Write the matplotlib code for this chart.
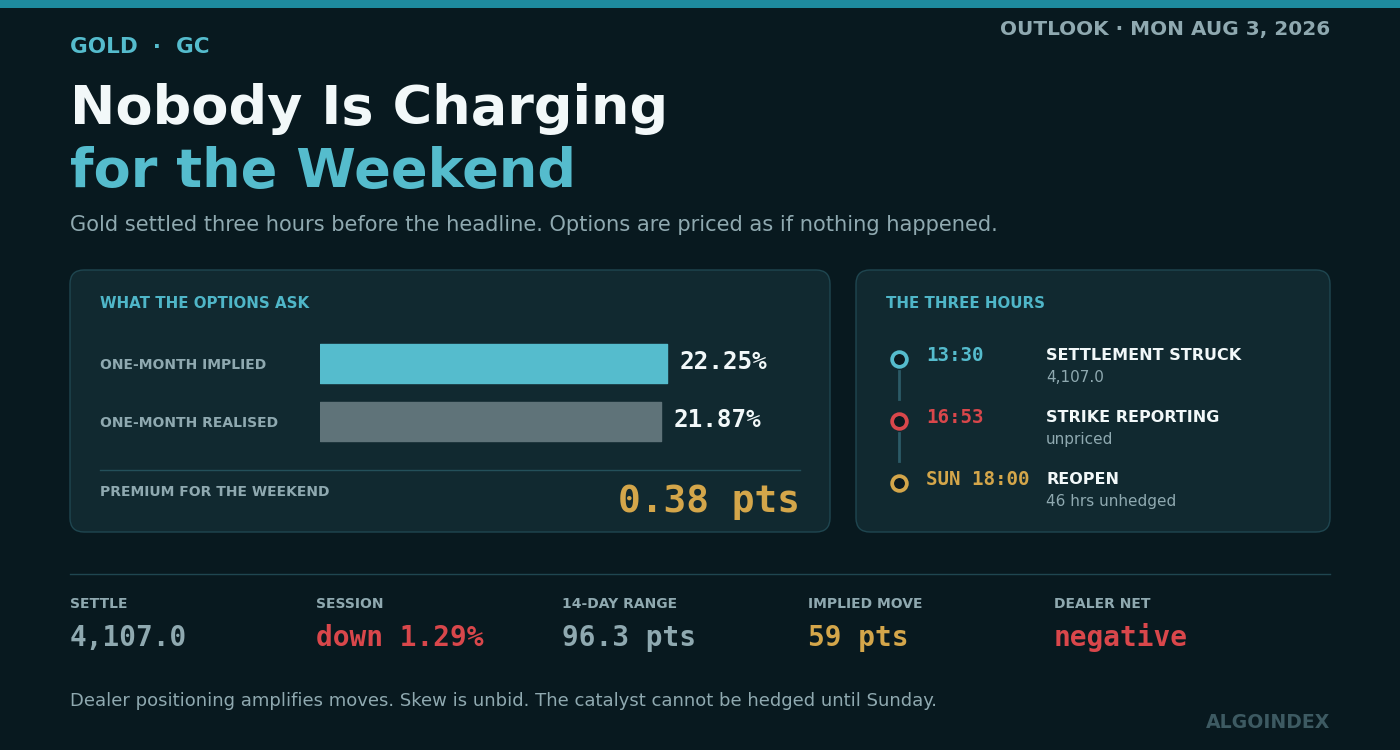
import matplotlib
matplotlib.use("Agg")
import matplotlib.pyplot as plt
from matplotlib.patches import FancyBboxPatch, Rectangle

plt.rcParams["font.family"] = ["DejaVu Sans"]

bar_labels = ["ONE-MONTH IMPLIED", "ONE-MONTH REALISED"]
bar_values = [22.25, 21.87]
premium_pts = 0.38

tl_times = ["13:30", "16:53", "SUN 18:00"]
tl_events = ["SETTLEMENT STRUCK", "STRIKE REPORTING", "REOPEN"]
tl_notes = ["4,107.0", "unpriced", "46 hrs unhedged"]

stat_labels = ["SETTLE", "SESSION", "14-DAY RANGE", "IMPLIED MOVE", "DEALER NET"]
stat_values = ["4,107.0", "down 1.29%", "96.3 pts", "59 pts", "negative"]

# colours
BG = "#08191f"
PANEL = "#112930"
EDGE = "#1f4650"
TEAL = "#55bccd"
GREY = "#8fa9b0"
WHITE = "#f2f8f9"
RED = "#d9474b"
GOLD = "#d4a64a"
BAR_COLORS = [TEAL, "#5f7379"]
TL_COLORS = [TEAL, RED, GOLD]
STAT_COLORS = [GREY, RED, GREY, GOLD, RED]
MONO = "DejaVu Sans Mono"

fig = plt.figure(figsize=(14, 7.5), dpi=100, facecolor=BG)
ax = fig.add_axes([0, 0, 1, 1])
ax.set_xlim(0, 1400)
ax.set_ylim(750, 0)
ax.axis("off")
ax.set_facecolor(BG)

# top accent strip
ax.add_patch(Rectangle((0, 0), 1400, 8, color="#1e8a9e", lw=0))

# header
ax.text(70, 47, "GOLD  ·  GC", weight="bold", fontsize=15.5,
        color=TEAL, va="center")
ax.text(1330, 29, "OUTLOOK · MON AUG 3, 2026", weight="bold", fontsize=14.4,
        color=GREY, va="center", ha="right")
ax.text(70, 109, "Nobody Is Charging", weight="bold", fontsize=39,
        color=WHITE, va="center")
ax.text(70, 172, "for the Weekend", weight="bold", fontsize=39,
        color=TEAL, va="center")
ax.text(70, 225, "Gold settled three hours before the headline. Options are priced as if nothing happened.",
        fontsize=15.1, color=GREY, va="center")

# panels
for x0, x1 in [(70, 830), (856, 1330)]:
    ax.add_patch(FancyBboxPatch((x0, 270), x1 - x0, 262,
                                boxstyle="round,pad=0,rounding_size=14",
                                fc=PANEL, ec=EDGE, lw=1))

# left panel
ax.text(100, 304, "WHAT THE OPTIONS ASK", weight="bold", fontsize=10.8,
        color="#4fb6c8", va="center")
for i, lab in enumerate(bar_labels):
    ax.text(100, 365 + i * 58, lab, weight="bold", fontsize=10,
            color=GREY, va="center")

bx = fig.add_axes([320 / 1400, (750 - 450.5) / 750, 480 / 1400, 116 / 750])
bx.set_xlim(0, 480 / 15.6)
bx.set_ylim(1.5, -0.5)
bx.axis("off")
bars = bx.barh(range(len(bar_values)), bar_values, height=0.67,
               color=BAR_COLORS, edgecolor=BAR_COLORS, lw=1)
for b in bars:
    b.set_joinstyle("round")
for i, v in enumerate(bar_values):
    bx.annotate(f"{v:.2f}%", xy=(v, i), xytext=(9.3, 1), textcoords="offset points",
                family=MONO, weight="bold", fontsize=17.5, color=WHITE,
                va="center", ha="left")

ax.plot([100, 800], [470, 470], color="#24505a", lw=1)
ax.text(100, 492, "PREMIUM FOR THE WEEKEND", weight="bold", fontsize=10,
        color=GREY, va="center")
ax.text(800, 502, f"{premium_pts:.2f} pts", family=MONO, weight="bold",
        fontsize=27.3, color=GOLD, va="center", ha="right")

# right panel: timeline
ax.text(886, 304, "THE THREE HOURS", weight="bold", fontsize=10.8,
        color="#4fb6c8", va="center")
step = 62
for i in range(len(tl_times)):
    y = 358.8 + i * step
    if i < len(tl_times) - 1:
        ax.plot([899, 899], [y + 12, y + 40], color="#2b5a66", lw=2)
    ax.scatter([899.3], [y], s=112, facecolor="#0b1a20", edgecolor=TL_COLORS[i],
               lw=2.7, zorder=3)
    ax.text(926, y - 3.5, tl_times[i], family=MONO, weight="bold", fontsize=13.75,
            color=TL_COLORS[i], va="center")
    ax.text(1046, y - 3.5, tl_events[i], weight="bold", fontsize=11.5,
            color=WHITE, va="center")
    ax.text(1046, y + 18.5, tl_notes[i], fontsize=11, color=GREY, va="center")

# stat strip
ax.plot([70, 1330], [574, 574], color="#1f4650", lw=1)
for i, (lab, val) in enumerate(zip(stat_labels, stat_values)):
    x = 70 + i * 246
    ax.text(x, 604, lab, weight="bold", fontsize=10, color=GREY, va="center")
    ax.text(x, 638, val, family=MONO, weight="bold", fontsize=20,
            color=STAT_COLORS[i], va="center")

ax.text(70, 701, "Dealer positioning amplifies moves. Skew is unbid. The catalyst cannot be hedged until Sunday.",
        fontsize=13, color=GREY, va="center")
ax.text(1330, 722, "ALGOINDEX", weight="bold", fontsize=13.6, color="#3d5a62",
        va="center", ha="right")

fig.savefig("out.png", dpi=100, facecolor=BG)
